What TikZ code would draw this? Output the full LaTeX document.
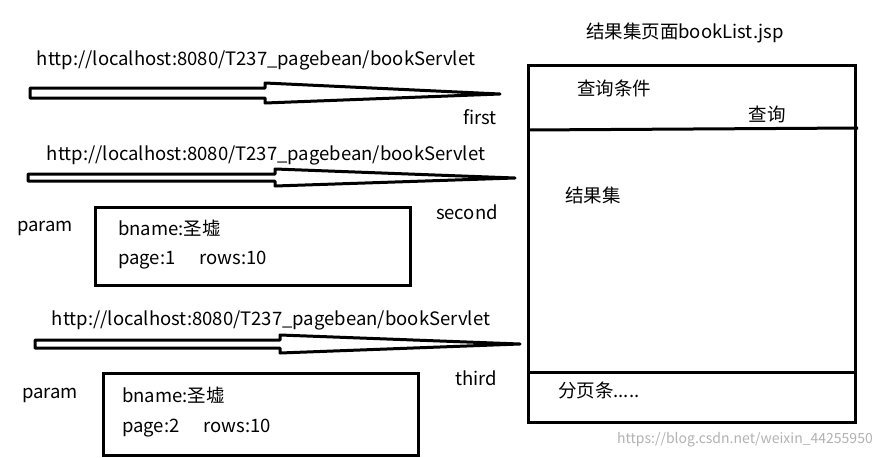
\documentclass[tikz,border=0pt]{standalone}
\usepackage{fontspec}
\setmainfont{Noto Sans CJK SC}
\begin{document}
\begin{tikzpicture}[x=1pt,y=-1pt,
  lbl/.style={inner sep=0pt,font=\fontsize{18.5}{21}\selectfont},
  blk/.style={draw=black,line width=3pt},
  arr/.style={draw=black,line width=3pt,line join=round}]
\useasboundingbox[fill=white] (0,0) rectangle (892,458);
% arrows
\draw[arr] (30,88) -- (265,88) -- (265,83) -- (500,94) -- (265,103) -- (265,98) -- (30,98) -- cycle;
\draw[arr] (28,174) -- (275,174) -- (275,169) -- (515,178) -- (275,186) -- (275,181) -- (28,181) -- cycle;
\draw[arr] (35,340) -- (280,340) -- (280,335) -- (520,344) -- (280,353) -- (280,348) -- (35,348) -- cycle;
\node[lbl] (u1) at (256,60) {http://localhost:8080/T237\_pagebean/bookServlet};
\node[lbl] (u2) at (266,155) {http://localhost:8080/T237\_pagebean/bookServlet};
\node[lbl] (u3) at (271,320) {http://localhost:8080/T237\_pagebean/bookServlet};
\node[lbl] (f1) at (480,117) {first};
\node[lbl] (f2) at (467,212) {second};
\node[lbl] (f3) at (476,378) {third};
% param boxes
\draw[blk] (95,207) rectangle (410,285);
\node[lbl] (p1) at (45,228) {param};
\node[lbl,anchor=west] (b1) at (118,228) {bname:圣墟};
\node[lbl,anchor=west] (r1) at (118,260) {page:1\hspace{24pt}rows:10};
\draw[blk] (103,373) rectangle (418,455);
\node[lbl] (p2) at (50,395) {param};
\node[lbl,anchor=west] (b2) at (122,395) {bname:圣墟};
\node[lbl,anchor=west] (r2) at (122,428) {page:2\hspace{24pt}rows:10};
% page
\node[lbl] (t) at (685,33) {结果集页面bookList.jsp};
\draw[blk] (528,65) rectangle (855,422);
\draw[blk] (528,130) -- (858,128);
\draw[blk] (528,372) -- (855,372);
\node[lbl,anchor=west] (q) at (577,88) {查询条件};
\node[lbl] (qb) at (767,114) {查询};
\node[lbl,anchor=west] (rs) at (565,195) {结果集};
\node[lbl,anchor=west] (pg) at (558,390) {分页条.....};
\node[inner sep=0pt,font=\fontsize{14}{16}\selectfont,text=black!30] (w) at (745,440) {https://blog.csdn.net/weixin\_44255950};
\end{tikzpicture}
\end{document}
